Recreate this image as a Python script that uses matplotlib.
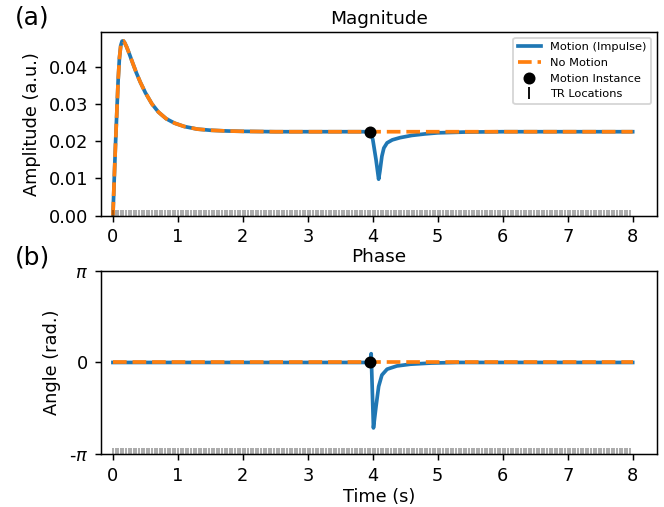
import numpy as np
import matplotlib
matplotlib.use("Agg")
import matplotlib.pyplot as plt

# Magnitude without motion
t_mag = [0.00, 0.02, 0.04, 0.06, 0.08, 0.10, 0.12, 0.14, 0.16, 0.18, 0.21, 0.25,
         0.30, 0.36, 0.42, 0.50, 0.60, 0.70, 0.82, 0.95, 1.10, 1.30, 1.50, 1.75,
         2.00, 2.50, 3.00, 3.50, 3.96]
amp_still = [0.0000, 0.0100, 0.0195, 0.0280, 0.0365, 0.0425, 0.0458, 0.0470, 0.0471,
             0.0466, 0.0455, 0.0437, 0.0413, 0.0385, 0.0360, 0.0331, 0.0301, 0.0279,
             0.0261, 0.0249, 0.0240, 0.0233, 0.0230, 0.0228, 0.0227, 0.0226, 0.0226,
             0.0226, 0.0226]

# tail of the no-motion magnitude after the motion instance
t_tail = [4.5, 5.0, 6.0, 7.0, 8.0]
amp_tail = [0.0226, 0.0226, 0.0226, 0.0226, 0.0226]

# motion (impulse) magnitude after the motion instance
t_dip = [4.00, 4.05, 4.09, 4.11, 4.14, 4.17, 4.22, 4.30, 4.42, 4.60, 4.80, 5.00,
         5.40, 6.00, 7.00, 8.00]
amp_dip = [0.0205, 0.0150, 0.0098, 0.0120, 0.0160, 0.0182, 0.0196, 0.0204, 0.0210,
           0.0216, 0.0220, 0.0223, 0.0225, 0.0226, 0.0226, 0.0226]

# phase
t_phase_still = [0.0, 8.0]
ph_still = [0.0, 0.0]
t_phase = [0.00, 3.955, 3.975, 4.01, 4.05, 4.09, 4.14, 4.22, 4.37, 4.58, 4.90, 5.30, 8.00]
ph_motion = [0.00, 0.00, 0.30, -2.24, -1.50, -0.82, -0.43, -0.23, -0.12, -0.06, -0.02,
             0.00, 0.00]

t_motion = 3.96
TR = 0.04
tr_locs = np.arange(0, 8, TR)

amp_no_motion = amp_still + amp_tail
t_no_motion = t_mag + t_tail
amp_motion = amp_still + amp_dip
t_motion_mag = t_mag + t_dip

blue = '#1f77b4'
orange = '#ff7f0e'

plt.rcParams['font.size'] = 9.6

# figure drawn small at a high dpi, like the original
fig, (ax1, ax2) = plt.subplots(2, 1, figsize=(5.0, 3.8178), dpi=132.8)
fig.subplots_adjust(left=0.152, right=0.989, top=0.937, bottom=0.104, hspace=0.30)

# Magnitude
ax1.plot(t_motion_mag, amp_motion, color=blue, lw=2, label='Motion (Impulse)')
ax1.plot(t_no_motion, amp_no_motion, '--', color=orange, lw=2, label='No Motion')
ax1.plot([t_motion], [0.0226], 'o', color='k', ms=5.5, zorder=5, label='Motion Instance')
ax1.plot(tr_locs, np.zeros(len(tr_locs)), '|', color='k', ms=7, alpha=0.35,
         label='TR Locations')
ax1.set_xlim(-0.185, 8.37)
ax1.set_ylim(0, 0.0495)
ax1.set_yticks([0, 0.01, 0.02, 0.03, 0.04])
ax1.set_xticks(range(9))
ax1.set_ylabel('Amplitude (a.u.)')
ax1.set_title('Magnitude', fontsize=10, pad=4.5)
leg = ax1.legend(loc='upper right', fontsize=6.2)
for h in leg.legend_handles:
    h.set_alpha(1)

# Phase
ax2.plot(t_phase, ph_motion, color=blue, lw=2)
ax2.plot(t_phase_still, ph_still, '--', color=orange, lw=2)
ax2.plot([t_motion], [0], 'o', color='k', ms=5.5, zorder=5)
ax2.plot(tr_locs, np.full(len(tr_locs), -np.pi), '|', color='k', ms=7, alpha=0.35)
ax2.set_xlim(-0.185, 8.37)
ax2.set_ylim(-np.pi, np.pi)
ax2.set_yticks([-np.pi, 0, np.pi])
ax2.set_yticklabels([r'-$\pi$', '0', r'$\pi$'])
ax2.set_xticks(range(9))
ax2.set_ylabel('Angle (rad.)')
ax2.set_xlabel('Time (s)', labelpad=1.5)
ax2.set_title('Phase', fontsize=10, pad=4.5)

fig.text(0.022, 0.966, '(a)', fontsize=13.5, va='center')
fig.text(0.022, 0.493, '(b)', fontsize=13.5, va='center')

plt.savefig('out.png', dpi=132.8)
